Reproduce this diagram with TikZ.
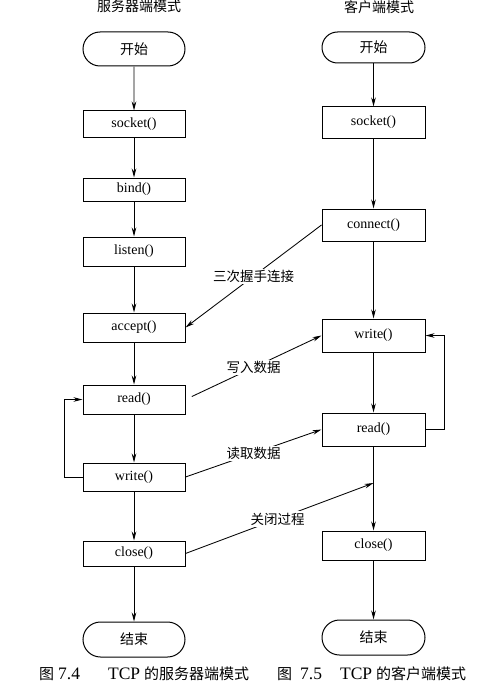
\documentclass[tikz,border=0pt]{standalone}
\usepackage{fontspec}
\setmainfont{Liberation Serif}
\newfontfamily\cjk{Noto Sans CJK SC}
\usetikzlibrary{arrows.meta,shapes.misc}
\begin{document}
\begin{tikzpicture}[x=1pt,y=-1pt,
  box/.style={draw,line width=1pt,minimum width=102pt,inner sep=0pt,font=\fontsize{14}{16}\selectfont},
  rbox/.style={box,minimum width=103pt},
  term/.style={box,rounded rectangle},
  rterm/.style={rbox,rounded rectangle},
  arr/.style={line width=0.85pt,-{Stealth[length=9pt,width=4.5pt]}},
  lbl/.style={fill=white,inner sep=1.5pt,font=\cjk\fontsize{13.5}{15}\selectfont},
  ttl/.style={anchor=north,inner sep=0pt,font=\cjk\fontsize{14}{16}\selectfont},
  captext/.style={anchor=base west,inner sep=0pt,font=\fontsize{17.5}{19}\selectfont},
  ]
\newcommand{\cjkc}{\cjk\fontsize{15}{17}\selectfont}
\useasboundingbox (0,0) rectangle (499,698);
\fill[white] (0,0) rectangle (499,698);

% titles
\node[ttl] (t1) at (139,0) {服务器端模式};
\node[ttl] (t2) at (379,0) {客户端模式};

% left column (server)
\node[term,minimum height=34pt] (ls) at (134,49) {\cjk 开始};
\node[box,minimum height=26pt] (lsock) at (134,124) {socket()};
\node[box,minimum height=23pt] (lbind) at (134,189.5) {bind()};
\node[box,minimum height=29pt] (llist) at (134,251.5) {listen()};
\node[box,minimum height=29pt] (lacc) at (134,327.5) {accept()};
\node[box,minimum height=29pt] (lread) at (134,399.5) {read()};
\node[box,minimum height=28pt] (lwrite) at (134,477) {write()};
\node[box,minimum height=25pt] (lclose) at (134,553.5) {close()};
\node[term,minimum height=35pt] (le) at (134,639.5) {\cjk 结束};

% right column (client)
\node[rterm,minimum height=31pt] (rs) at (373.5,47.5) {\cjk 开始};
\node[rbox,minimum height=31pt] (rsock) at (373.5,122.5) {socket()};
\node[rbox,minimum height=32pt] (rconn) at (373.5,225) {connect()};
\node[rbox,minimum height=33pt] (rwrite) at (373.5,335.5) {write()};
\node[rbox,minimum height=33pt] (rread) at (373.5,429.5) {read()};
\node[rbox,minimum height=29pt] (rclose) at (373.5,545.5) {close()};
\node[rterm,minimum height=35pt] (re) at (373.5,637.5) {\cjk 结束};

% captions
\node[captext] (c1) at (39,679) {{\cjkc 图}\hspace{4pt}7.4\hspace{28pt}TCP\hspace{4pt}{\cjkc 的服务器端模式}};
\node[captext] (c2) at (277,679) {{\cjkc 图}\hspace{8pt}7.5\hspace{18pt}TCP\hspace{4pt}{\cjkc 的客户端模式}};

% vertical flow, left
\draw[arr] (ls) -- (lsock);
\draw[arr] (lsock) -- (lbind);
\draw[arr] (lbind) -- (llist);
\draw[arr] (llist) -- (lacc);
\draw[arr] (lacc) -- (lread);
\draw[arr] (lread) -- (lwrite);
\draw[arr] (lwrite) -- (lclose);
\draw[arr] (lclose) -- (le);

% vertical flow, right
\draw[arr] (rs) -- (rsock);
\draw[arr] (rsock) -- (rconn);
\draw[arr] (rconn) -- (rwrite);
\draw[arr] (rwrite) -- (rread);
\draw[arr] (rread) -- (rclose);
\draw[arr] (rclose) -- (re);

% loops
\coordinate (ll) at (64,477);
\draw[arr] (lwrite.west) -- (ll) |- (lread.west);
\coordinate (rl) at (444,429.5);
\draw[arr] (rread.east) -- (rl) |- (rwrite.east);

% cross connections
\draw[arr] (rconn.west) -- node[lbl] {三次握手连接} (lacc.east);
\draw[arr,shorten <=7pt] (lread.east) -- node[lbl] {写入数据} (rwrite.west);
\draw[arr] (lwrite.east) -- node[lbl] {读取数据} (rread.west);
\coordinate (cl) at (373.5,483);
\draw[arr] (lclose.east) -- node[lbl,pos=0.49] {关闭过程} (cl);
\end{tikzpicture}
\end{document}
